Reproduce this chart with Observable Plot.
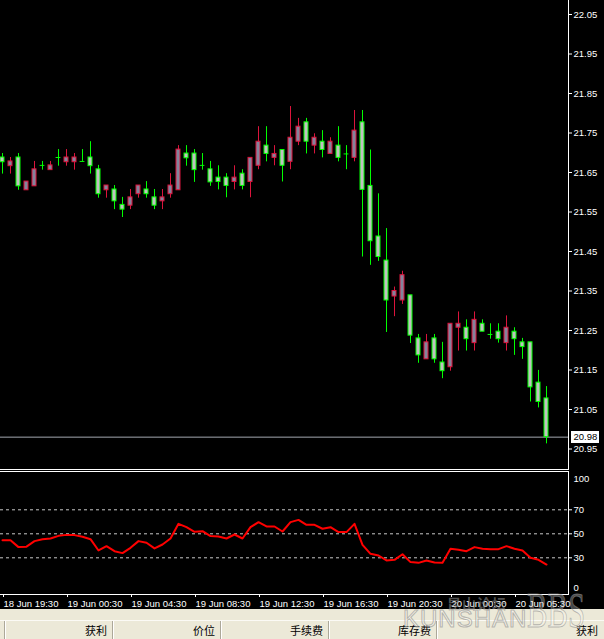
<!DOCTYPE html>
<html>
<head>
<meta charset="utf-8">
<script src="https://cdn.jsdelivr.net/npm/d3@7"></script>
<script src="https://cdn.jsdelivr.net/npm/@observablehq/plot@0.6"></script>
<style>
  html, body { margin: 0; padding: 0; background: #000; }
  #wrap { position: relative; width: 604px; height: 639px; overflow: hidden; background: #000; }
  #wrap svg { display: block; }
  #status { position: absolute; left: 0; top: 609px; width: 604px; height: 30px; background: #ece9d8;
            font-family: "Noto Sans CJK SC", sans-serif; font-size: 11px; color: #000; }
  #status .hline { position: absolute; left: 0; top: 11px; width: 604px; height: 1px; background: #fbfaf5; }
  #status .sep { position: absolute; top: 12px; width: 1px; height: 18px; background: #aca899; border-right: 1px solid #fff; }
  #status .lab { position: absolute; top: 13px; line-height: 16px; text-align: right; }
  .wm { position: absolute; pointer-events: none; white-space: nowrap; line-height: 1; }
</style>
</head>
<body>
<div id="wrap"></div>
<script>
// ---- data ----
const opens  = [21.688,21.666,21.688,21.605,21.615,21.668,21.656,21.688,21.676,21.676,21.678,21.688,21.658,21.605,21.607,21.568,21.566,21.595,21.607,21.587,21.577,21.595,21.605,21.698,21.698,21.668,21.658,21.637,21.637,21.626,21.647,21.626,21.667,21.718,21.687,21.707,21.677,21.728,21.777,21.718,21.728,21.697,21.718,21.697,21.687,21.777,21.616,21.488,21.427,21.336,21.326,21.339,21.230,21.177,21.230,21.169,21.157,21.257,21.257,21.218,21.267,21.240,21.247,21.218,21.247,21.220,21.220,21.118,21.078];
const highs  = [21.698,21.688,21.698,21.627,21.678,21.678,21.678,21.708,21.708,21.698,21.708,21.728,21.668,21.617,21.617,21.587,21.607,21.617,21.627,21.607,21.607,21.647,21.718,21.718,21.708,21.698,21.678,21.667,21.647,21.667,21.657,21.687,21.766,21.766,21.718,21.707,21.817,21.787,21.787,21.748,21.756,21.738,21.766,21.718,21.807,21.807,21.707,21.596,21.508,21.360,21.400,21.339,21.240,21.240,21.240,21.220,21.267,21.297,21.277,21.297,21.277,21.267,21.267,21.287,21.257,21.230,21.220,21.149,21.108];
const lows   = [21.646,21.646,21.605,21.605,21.615,21.656,21.656,21.666,21.666,21.656,21.678,21.646,21.585,21.585,21.556,21.536,21.556,21.585,21.585,21.556,21.556,21.585,21.605,21.666,21.625,21.656,21.615,21.606,21.586,21.606,21.606,21.586,21.657,21.677,21.667,21.626,21.657,21.718,21.697,21.697,21.687,21.697,21.677,21.657,21.677,21.436,21.415,21.425,21.245,21.285,21.316,21.217,21.167,21.177,21.167,21.128,21.147,21.198,21.198,21.198,21.247,21.228,21.218,21.198,21.187,21.177,21.069,21.054,20.963];
const closes = [21.676,21.678,21.615,21.627,21.658,21.668,21.668,21.688,21.688,21.688,21.678,21.666,21.595,21.617,21.577,21.556,21.587,21.617,21.595,21.566,21.587,21.617,21.708,21.686,21.656,21.668,21.625,21.626,21.616,21.637,21.616,21.687,21.728,21.697,21.697,21.667,21.738,21.766,21.728,21.738,21.707,21.728,21.687,21.697,21.756,21.606,21.476,21.436,21.326,21.350,21.390,21.237,21.187,21.220,21.177,21.147,21.267,21.267,21.228,21.277,21.247,21.240,21.228,21.257,21.228,21.208,21.106,21.069,20.98];
const rsiValues = [44.7,44.6,38.9,39.3,43.9,45.5,46.1,48.3,49.1,48.9,47.5,45.5,36.1,39.7,35.5,33.9,38.3,43.9,42.5,37.8,41.1,46.1,58.3,55.5,51.7,52.2,48.1,47.8,46.1,49.4,46.1,55.5,59.7,56.1,56.1,51.9,59.7,61.6,57.5,57.5,54.2,55.5,51.4,51.4,58.3,40.8,33.3,31.9,27.8,28.3,33.0,26.4,25.8,27.8,26.1,25.8,37.5,36.7,35.5,38.9,37.5,37.2,37.2,39.7,37.5,36.1,30.0,28.3,24.4];
const priceTicks = [22.05,21.95,21.85,21.75,21.65,21.55,21.45,21.35,21.25,21.15,21.05,20.95];
const rsiLevels = [70, 50, 30];
const rsiEdgeTop = [100];
const rsiEdgeBottom = [0];
const timeTickIndex = [0, 8, 16, 24, 32, 40, 48, 56, 64];
const timeLabels = ["18 Jun 19:30","19 Jun 00:30","19 Jun 04:30","19 Jun 08:30","19 Jun 12:30","19 Jun 16:30","19 Jun 20:30","20 Jun 00:30","20 Jun 05:30"];
const statusHeaders = ["获利","价位","手续费","库存费","获利"];

// ---- style ----
const GREEN = "#00ff00", RED = "#dc143c";
const GREEN_FILL = "#c0c0c0", RED_FILL = "#84849c";
const FONT = "'Liberation Sans', Arial, sans-serif";

const candles = opens.map((o, i) => ({i, open: o, high: highs[i], low: lows[i], close: closes[i]}));
const isUp = d => d.close > d.open;
const bodies = candles.filter(d => d.open !== d.close);
const dojis = candles.filter(d => d.open === d.close);
const lastClose = closes[closes.length - 1];
const xDomain = [-0.25, 70.75];

const wrap = document.getElementById("wrap");

const main = Plot.plot({
  width: 604, height: 470,
  marginLeft: 0, marginRight: 36, marginTop: 0, marginBottom: 1,
  style: {background: "#000", color: "#fff", fontFamily: FONT, fontSize: "9.5px"},
  x: {type: "linear", domain: xDomain, axis: null},
  y: {domain: [20.95, 22.05], range: [448.5, 14], axis: null},
  marks: [
    Plot.ruleY([lastClose], {stroke: "#a4a8b0"}),
    Plot.ruleX(candles, {x: "i", y1: "low", y2: "high", stroke: d => isUp(d) ? RED : GREEN}),
    Plot.rect(bodies, {
      x1: d => d.i - 0.25, x2: d => d.i + 0.25, y1: "open", y2: "close",
      fill: d => isUp(d) ? RED_FILL : GREEN_FILL, stroke: d => isUp(d) ? RED : GREEN, strokeWidth: 1
    }),
    Plot.ruleY(dojis, {y: "open", x1: d => d.i - 0.3, x2: d => d.i + 0.3, stroke: GREEN}),
    Plot.axisY(priceTicks, {anchor: "right", tickSize: 3, tickPadding: 2, tickFormat: d3.format(".2f")}),
    Plot.text([lastClose], {y: d => d, frameAnchor: "right", textAnchor: "start", dx: 5, fill: "#000",
      text: d => d3.format(".2f")(d)}),
    Plot.frame({anchor: "right", stroke: "#fff"}),
    Plot.frame({anchor: "bottom", stroke: "#fff"})
  ]
});
wrap.appendChild(main);

// white box behind the current price label
(function () {
  const svgBox = main.getBoundingClientRect();
  const label = Array.from(main.querySelectorAll("text")).find(t => t.textContent === d3.format(".2f")(lastClose) && t.getAttribute("fill") !== "currentColor" && !t.closest("[aria-label*='axis']"));
  if (!label) return;
  const bb = label.getBoundingClientRect();
  let top = label;
  while (top.parentNode && top.parentNode !== main) top = top.parentNode;
  const rect = document.createElementNS("http://www.w3.org/2000/svg", "rect");
  rect.setAttribute("x", Math.floor(bb.left - svgBox.left) - 2);
  rect.setAttribute("y", Math.round(bb.top - svgBox.top));
  rect.setAttribute("width", Math.ceil(bb.width) + 4);
  rect.setAttribute("height", Math.round(bb.height) + 1);
  rect.setAttribute("fill", "#fff");
  main.insertBefore(rect, top);
})();

const lower = Plot.plot({
  width: 604, height: 139,
  marginLeft: 0, marginRight: 36, marginTop: 1, marginBottom: 15,
  style: {background: "#000", color: "#fff", fontFamily: FONT, fontSize: "9.5px"},
  x: {type: "linear", domain: xDomain, axis: null},
  y: {domain: [0, 100], range: [123.3, 3.3], axis: null},
  marks: [
    Plot.ruleY(rsiLevels, {stroke: "#c8c8c8", strokeDasharray: "3,3"}),
    Plot.line(rsiValues, {x: (d, i) => i, y: d => d, stroke: "#ff0000", strokeWidth: 2}),
    Plot.axisY(rsiLevels, {anchor: "right", tickSize: 3, tickPadding: 2}),
    Plot.text(rsiEdgeTop, {y: d => d, frameAnchor: "right", textAnchor: "start", dx: 5, dy: 5, text: d => String(d), fill: "#fff"}),
    Plot.text(rsiEdgeBottom, {y: d => d, frameAnchor: "right", textAnchor: "start", dx: 5, dy: -6, text: d => String(d), fill: "#fff"}),
    Plot.axisX(timeTickIndex, {anchor: "bottom", tickSize: 3, tickPadding: 3, textAnchor: "start", dx: 1,
      tickFormat: d => timeLabels[timeTickIndex.indexOf(d)]}),
    Plot.frame({anchor: "top", stroke: "#fff"}),
    Plot.frame({anchor: "bottom", stroke: "#fff"}),
    Plot.frame({anchor: "right", stroke: "#fff"})
  ]
});
wrap.appendChild(lower);

// status bar
const status = document.createElement("div");
status.id = "status";
const hl = document.createElement("div"); hl.className = "hline"; status.appendChild(hl);
[4, 112, 220, 328, 436].forEach(x => {
  const s = document.createElement("div"); s.className = "sep"; s.style.left = x + "px"; status.appendChild(s);
});
const labelRight = [107, 215, 323, 431, 598];
statusHeaders.forEach((t, k) => {
  const s = document.createElement("div"); s.className = "lab";
  s.textContent = t; s.style.left = (labelRight[k] - 60) + "px"; s.style.width = "60px";
  status.appendChild(s);
});
wrap.appendChild(status);

// watermark
const wm1 = document.createElement("div"); wm1.className = "wm";
wm1.textContent = "昆山论坛";
Object.assign(wm1.style, {left: "447px", top: "596px", fontFamily: "'Noto Sans CJK SC', sans-serif", fontSize: "14px",
  color: "rgba(150,150,150,0.55)", fontWeight: "bold", letterSpacing: "1px"});
const wm2 = document.createElement("div"); wm2.className = "wm";
wm2.textContent = "KUNSHAN";
Object.assign(wm2.style, {left: "403px", top: "607px", fontFamily: FONT, fontSize: "24px", letterSpacing: "1px",
  color: "rgba(255,255,255,0.35)", webkitTextStroke: "1px rgba(130,130,130,0.55)"});
wrap.appendChild(wm1); wrap.appendChild(wm2);
const NS = "http://www.w3.org/2000/svg";
const wmSvg = document.createElementNS(NS, "svg");
wmSvg.setAttribute("width", 62); wmSvg.setAttribute("height", 40);
Object.assign(wmSvg.style, {position: "absolute", left: "527px", top: "591px", pointerEvents: "none", overflow: "visible"});
const bbs = document.createElementNS(NS, "text");
bbs.textContent = "BBS";
bbs.setAttribute("x", 0); bbs.setAttribute("y", 36);
bbs.setAttribute("textLength", 58); bbs.setAttribute("lengthAdjust", "spacingAndGlyphs");
bbs.setAttribute("font-family", "'Liberation Serif', serif"); bbs.setAttribute("font-size", 51);
bbs.setAttribute("fill", "rgba(255,255,255,0.3)"); bbs.setAttribute("stroke", "rgba(140,140,140,0.6)");
wmSvg.appendChild(bbs);
wrap.appendChild(wmSvg);
</script>
</body>
</html>
